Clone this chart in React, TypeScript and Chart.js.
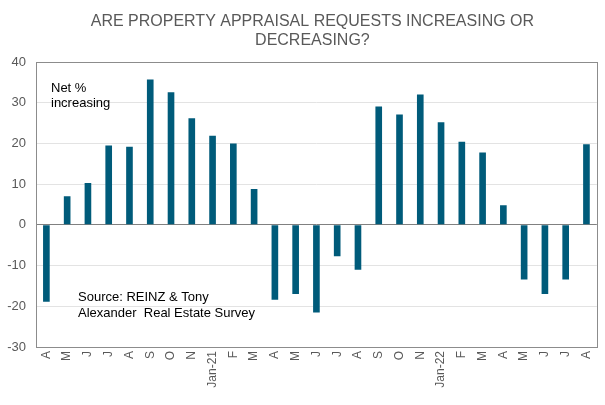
import React, { useEffect, useRef } from "react";
import { Chart, registerables } from "chart.js";

Chart.register(...registerables);

const categories = ["A","M","J","J","A","S","O","N","Jan-21","F","M","A","M","J","J","A","S","O","N","Jan-22","F","M","A","M","J","J","A"];
const netIncreasing = [-18.9,7.0,10.3,19.5,19.2,35.7,32.6,26.2,21.9,20.0,8.8,-18.4,-17.0,-21.5,-7.7,-11.0,29.1,27.1,32.0,25.2,20.4,17.8,4.8,-13.4,-17.0,-13.4,19.8];
const titleLines = ["ARE PROPERTY APPRAISAL REQUESTS INCREASING OR", "DECREASING?"];
const seriesNote = ["Net %", "increasing"];
const sourceNote = ["Source: REINZ & Tony", "Alexander  Real Estate Survey"];

const FONT = "'Liberation Sans', Arial, sans-serif";

export default function App() {
  const ref = useRef<HTMLCanvasElement | null>(null);
  useEffect(() => {
    document.body.style.margin = "0";
    const decor = {
      id: "decor",
      beforeDatasetsDraw(chart: any) {
        const { ctx, chartArea: a } = chart;
        ctx.save();
        ctx.strokeStyle = "#8c8c8c";
        ctx.lineWidth = 1;
        ctx.strokeRect(Math.round(a.left) + 0.5, Math.round(a.top) + 0.5, Math.round(a.right - a.left), Math.round(a.bottom - a.top));
        ctx.restore();
      },
      afterDraw(chart: any) {
        const { ctx, chartArea: a } = chart;
        ctx.save();
        ctx.fillStyle = "#595959";
        ctx.font = `16px ${FONT}`;
        ctx.textAlign = "center";
        ctx.textBaseline = "middle";
        const cx = (a.left + a.right) / 2 - 4;
        ctx.fillText(titleLines[0], cx, 22);
        ctx.fillText(titleLines[1], cx, 41);
        ctx.fillStyle = "#000000";
        ctx.font = `13px ${FONT}`;
        ctx.textAlign = "left";
        ctx.fillText(seriesNote[0], a.left + 15, 88);
        ctx.fillText(seriesNote[1], a.left + 15, 103);
        ctx.fillText(sourceNote[0], a.left + 42, 297);
        ctx.fillText(sourceNote[1], a.left + 42, 313);
        ctx.restore();
      },
    };
    const chart = new Chart(ref.current!, {
      type: "bar",
      data: {
        labels: categories,
        datasets: [
          {
            data: netIncreasing,
            backgroundColor: "#005b7a",
            barPercentage: 0.32,
            categoryPercentage: 1,
          },
        ],
      },
      options: {
        animation: false,
        responsive: false,
        layout: { padding: { top: 62, right: 8, left: 0, bottom: 0 } },
        plugins: { legend: { display: false }, title: { display: false }, tooltip: { enabled: false } },
        scales: {
          x: {
            grid: { display: false, drawTicks: false },
            border: { display: false },
            ticks: {
              color: "#595959",
              font: { family: FONT, size: 12 },
              minRotation: 90,
              maxRotation: 90,
              autoSkip: false,
              padding: 4,
            },
            afterFit(scale: any) {
              scale.height = 58;
            },
          },
          y: {
            min: -30,
            max: 40,
            grid: {
              drawTicks: false,
              color: (c: any) => (c.tick && c.tick.value === 0 ? "#808080" : "#e3e3e3"),
              lineWidth: 1,
            },
            border: { display: false },
            ticks: {
              stepSize: 10,
              color: "#595959",
              font: { family: FONT, size: 13 },
              padding: 10,
            },
            afterFit(scale: any) {
              scale.width = 36;
            },
          },
        },
      },
      plugins: [decor],
    });
    return () => chart.destroy();
  }, []);
  return (
    <div style={{ width: 605, height: 405 }}>
      <canvas ref={ref} width={605} height={405} style={{ width: 605, height: 405 }} />
    </div>
  );
}
